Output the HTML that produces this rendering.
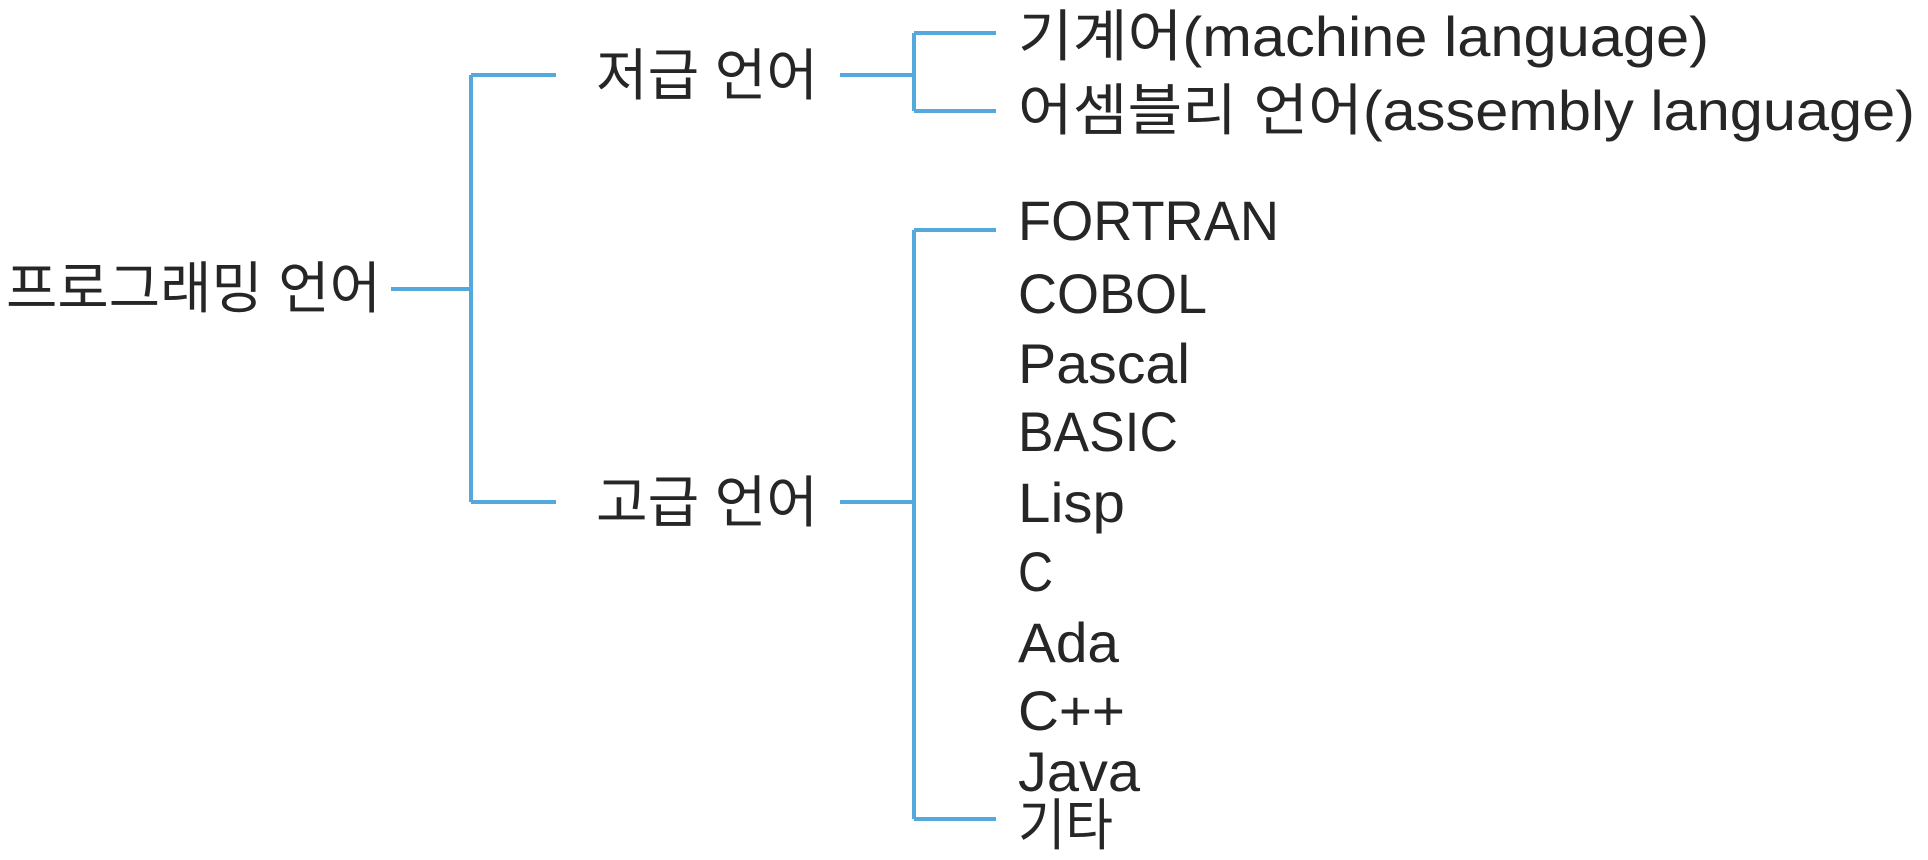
<!DOCTYPE html>
<html><head><meta charset="utf-8"><style>
html,body{margin:0;padding:0;background:#fff;}
svg{display:block;}
text{font-family:"Liberation Sans","Noto Sans CJK KR","NanumGothic",sans-serif;font-size:56px;fill:#262626;}
</style></head><body>
<svg width="1928" height="860" viewBox="0 0 1928 860" xmlns="http://www.w3.org/2000/svg">
<g stroke="#55a8dc" stroke-width="4" fill="none">
<line x1="391" y1="289" x2="471" y2="289"/>
<line x1="471" y1="75" x2="471" y2="502"/>
<line x1="471" y1="75" x2="556" y2="75"/>
<line x1="471" y1="502" x2="556" y2="502"/>
<line x1="840" y1="75" x2="914" y2="75"/>
<line x1="914" y1="33" x2="914" y2="111"/>
<line x1="914" y1="33" x2="996" y2="33"/>
<line x1="914" y1="111" x2="996" y2="111"/>
<line x1="840" y1="502" x2="914" y2="502"/>
<line x1="914" y1="230" x2="914" y2="819"/>
<line x1="914" y1="230" x2="996" y2="230"/>
<line x1="914" y1="819" x2="996" y2="819"/>
</g>
<text x="6" y="308" textLength="375" lengthAdjust="spacingAndGlyphs">프로그래밍 언어</text>
<text x="596" y="95" textLength="222" lengthAdjust="spacingAndGlyphs">저급 언어</text>
<text x="596" y="522" textLength="222" lengthAdjust="spacingAndGlyphs">고급 언어</text>
<text x="1018" y="56" textLength="691" lengthAdjust="spacingAndGlyphs">기계어(machine language)</text>
<text x="1018" y="130" textLength="897" lengthAdjust="spacingAndGlyphs">어셈블리 언어(assembly language)</text>
<text x="1018" y="240" textLength="261" lengthAdjust="spacingAndGlyphs">FORTRAN</text>
<text x="1018" y="313" textLength="189" lengthAdjust="spacingAndGlyphs">COBOL</text>
<text x="1018" y="383" textLength="172" lengthAdjust="spacingAndGlyphs">Pascal</text>
<text x="1018" y="451" textLength="160" lengthAdjust="spacingAndGlyphs">BASIC</text>
<text x="1018" y="522" textLength="107" lengthAdjust="spacingAndGlyphs">Lisp</text>
<text x="1018" y="591" textLength="35" lengthAdjust="spacingAndGlyphs">C</text>
<text x="1018" y="662" textLength="101" lengthAdjust="spacingAndGlyphs">Ada</text>
<text x="1018" y="730" textLength="107" lengthAdjust="spacingAndGlyphs">C++</text>
<text x="1018" y="791" textLength="122" lengthAdjust="spacingAndGlyphs">Java</text>
<text x="1018" y="845" textLength="95" lengthAdjust="spacingAndGlyphs">기타</text>
</svg>
</body></html>
